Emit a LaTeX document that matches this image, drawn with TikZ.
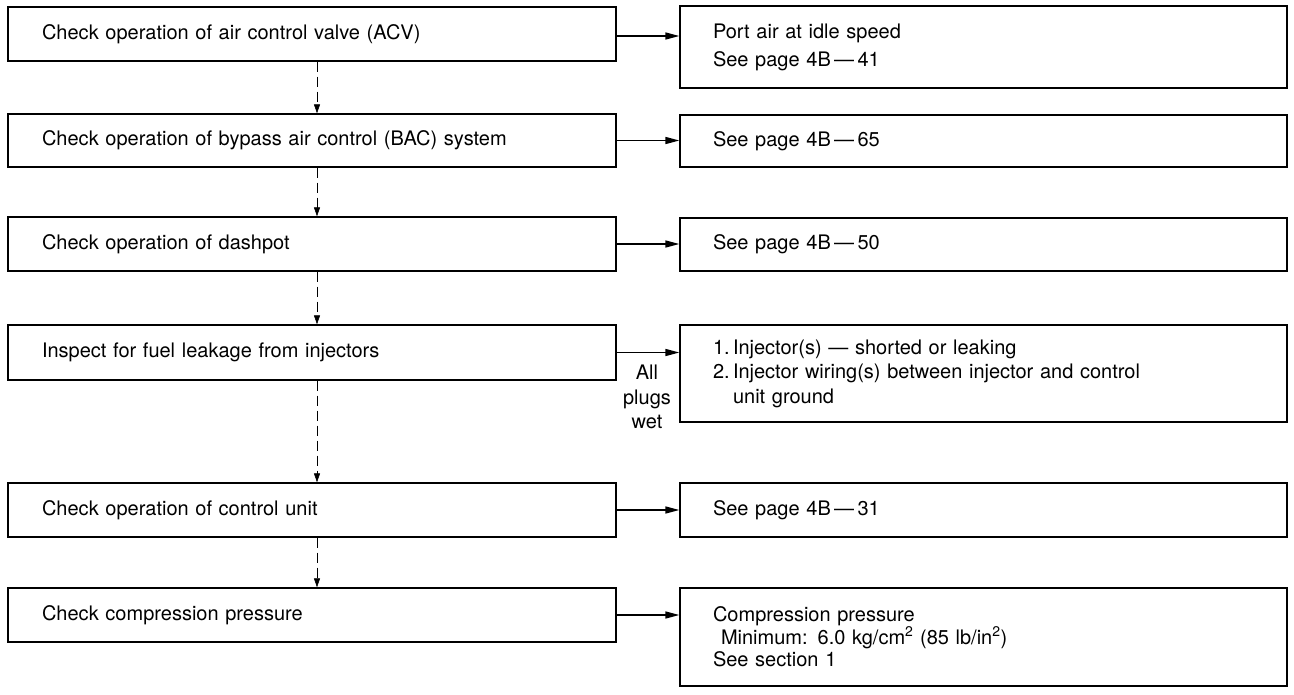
\documentclass[tikz,border=0pt]{standalone}
\usepackage{fontspec}
\setmainfont{TeX Gyre Heros}
\usetikzlibrary{arrows.meta}
\begin{document}
\begin{tikzpicture}[x=1pt,y=-1pt,
  lbox/.style={draw, line width=1.3pt, rectangle, inner xsep=34pt, inner ysep=0pt,
     text width=540pt, align=left, font=\fontsize{20}{24}\selectfont},
  rbox/.style={draw, line width=1.3pt, rectangle, inner xsep=33pt, inner ysep=0pt,
     text width=541pt, align=left, font=\fontsize{20}{24}\selectfont},
  harrow/.style={line width=1.5pt, -{Triangle[length=14pt,width=7pt]}},
  varrow/.style={line width=0.6pt, dash pattern=on 10pt off 5pt, -{Triangle[length=9pt,width=6pt]}},
  lab/.style={align=center, inner sep=0pt, font=\fontsize{20}{24.5}\selectfont}
]
\useasboundingbox (0,0) rectangle (1294,694);
% left column
\node[lbox, minimum height=54pt] (L1) at (312,34) {Check operation of air control valve (ACV)};
\node[lbox, minimum height=53pt] (L2) at (312,140.5) {Check operation of bypass air control (BAC) system};
\node[lbox, minimum height=54pt] (L3) at (312,244) {Check operation of dashpot};
\node[lbox, minimum height=55pt] (L4) at (312,352.5) {Inspect for fuel leakage from injectors};
\node[lbox, minimum height=54pt] (L5) at (312,510) {Check operation of control unit};
\node[lbox, minimum height=54pt] (L6) at (312,615) {Check compression pressure};
% right column
\node[rbox, minimum height=82pt, font=\fontsize{20}{28}\selectfont] (R1) at (983.5,47) {Port air at idle speed\\See page 4B\,—\,41};
\node[rbox, minimum height=52pt] (R2) at (983.5,141) {See page 4B\,—\,65};
\node[rbox, minimum height=53pt] (R3) at (983.5,244.5) {See page 4B\,—\,50};
\node[rbox, minimum height=97pt, font=\fontsize{20}{24.5}\selectfont] (R4) at (983.5,373.5) {1.\,Injector(s) — shorted or leaking\\2.\,Injector wiring(s) between injector and control\\\phantom{2.\,}unit ground};
\node[rbox, minimum height=54pt] (R5) at (983.5,510) {See page 4B\,—\,31};
\node[rbox, minimum height=98pt, font=\fontsize{20}{22.5}\selectfont] (R6) at (983.5,637) {Compression pressure\\\hspace*{0.4em}Minimum: 6.0 kg/cm\textsuperscript{2} (85 lb/in\textsuperscript{2})\\See section 1};
% label
\node[lab] (wet) at (647,397) {All\\plugs\\wet};
% vertical arrows
\draw[varrow] ([xshift=5pt]L1.south) -- ([xshift=5pt]L2.north);
\draw[varrow] ([xshift=5pt]L2.south) -- ([xshift=5pt]L3.north);
\draw[varrow] ([xshift=5pt]L3.south) -- ([xshift=5pt]L4.north);
\draw[varrow] ([xshift=5pt]L4.south) -- ([xshift=5pt]L5.north);
\draw[varrow] ([xshift=5pt]L5.south) -- ([xshift=5pt]L6.north);
% horizontal arrows
\draw[harrow] ([yshift=-2pt]L1.east) -- ([yshift=-2pt]L1.east -| R1.west);
\draw[harrow] (L2.east) -- (L2.east -| R2.west);
\draw[harrow] (L3.east) -- (L3.east -| R3.west);
\draw[harrow] (L4.east) -- (L4.east -| R4.west);
\draw[harrow] (L5.east) -- (L5.east -| R5.west);
\draw[harrow] (L6.east) -- (L6.east -| R6.west);
\end{tikzpicture}
\end{document}
